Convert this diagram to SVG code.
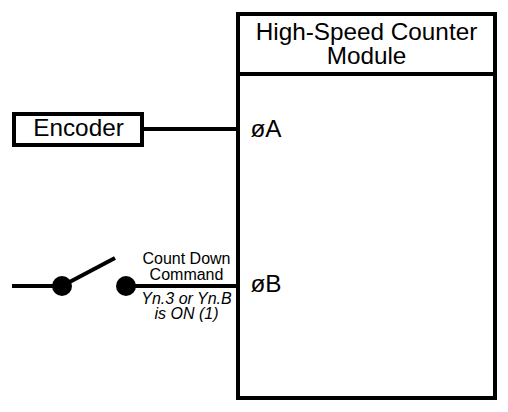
<svg xmlns="http://www.w3.org/2000/svg" width="508" height="412" viewBox="0 0 508 412">
<style>
text{font-family:"Liberation Sans",Arial,sans-serif;fill:#000;text-anchor:middle}
.box{fill:#fff;stroke:#000;stroke-width:4}
.w{fill:none;stroke:#000;stroke-width:4}
.t{font-size:24.3px}
.s{font-size:16px}
.i{font-size:16px;font-style:italic}
</style>
<rect width="508" height="412" fill="#fff"/>
<g id="connectors">
<path class="w" d="M144 129H238"/>
<path class="w" d="M12 286H62"/>
<path class="w" d="M62 286L115 258"/>
<path class="w" d="M126 286H238"/>
</g>
<g id="module">
<rect class="box" x="238" y="14" width="257" height="384"/>
<path class="w" d="M238 74H495"/>
<text class="t" x="366.5" y="40">High-Speed Counter</text>
<text class="t" x="366.5" y="64">Module</text>
<text class="t" x="266" y="136.500">øA</text>
<text class="t" x="266" y="292">øB</text>
</g>
<g id="encoder">
<rect class="box" x="14" y="114" width="128" height="31"/>
<text class="t" x="78.500" y="136">Encoder</text>
</g>
<g id="switch">
<circle cx="62" cy="286" r="10"/>
<circle cx="126" cy="286" r="10"/>
<text class="s" x="186.500" y="264">Count Down</text>
<text class="s" x="186.500" y="280">Command</text>
<text class="i" x="186.500" y="304">Yn.3 or Yn.B</text>
<text class="i" x="186.500" y="319">is ON (1)</text>
</g>
</svg>
